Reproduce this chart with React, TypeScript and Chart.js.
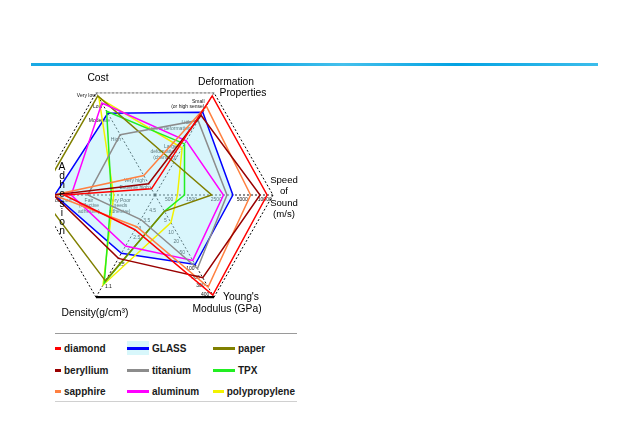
import React, { useEffect, useRef } from "react";
import { Chart, registerables } from "chart.js";

Chart.register(...registerables);

// ---- axes (clockwise from upper-left) ----
const axisLabels = ["Cost", "Deformation Properties", "Speed of Sound (m/s)", "Young's Modulus (GPa)", "Density(g/cm³)", "Adhesion"];

// ---- materials (legend order, column by column) ----
const materials = ["diamond", "beryllium", "sapphire", "GLASS", "titanium", "aluminum", "paper", "TPX", "polypropylene"];
const lineColors = ["#ff0000", "#990000", "#ff8040", "#0000ff", "#8c8c8c", "#ff00ff", "#808000", "#22ee22", "#f2f200"];

// values: [Cost, Deformation, Speed, Young's, Density, Adhesion] on a 0..10 "better = outer" scale
const diamond = [0.6, 9.7, 9.5, 9.8, 3.4, 7.7];
const beryllium = [1.1, 7.8, 8.9, 8.1, 6.2, 8.6];
const sapphire = [1.9, 8.7, 8.1, 9.0, 3.1, 8.6];
const glass = [8.0, 8.1, 6.6, 6.8, 5.7, 8.5];
const titanium = [5.9, 7.3, 6.1, 7.2, 2.4, 5.7];
const aluminum = [9.0, 5.3, 5.8, 6.4, 5.0, 7.1];
const paper = [9.7, 3.2, 4.8, 1.6, 8.4, 9.7];
const tpx = [8.2, 5.0, 2.5, 1.6, 8.6, 3.7];
const polypropylene = [9.5, 4.6, 1.9, 2.7, 8.8, 3.5];
const seriesValues = [diamond, beryllium, sapphire, glass, titanium, aluminum, paper, tpx, polypropylene];

// ---- per-axis tick labels ----
const costTicks = ["Very low", "Low", "Moderate", "High", "Very high", "Extreme high"];
const costTickValues = [9.7, 8.6, 7.3, 5.4, 1.4, 0.7];
const deformationTicks = ["Small\n(or high sense)", "Little\n(some deformation)", "Large\ndeformation\n(changing)"];
const deformationTickValues = [8.9, 6.8, 4.2];
const speedTicks = ["500", "1500", "2500", "5000", "10000"];
const speedTickValues = [1.2, 3.1, 5.2, 7.4, 9.3];
const youngTicks = ["5", "10", "20", "50", "100", "200", "300", "400"];
const youngTickValues = [2.5, 3.7, 4.6, 5.6, 7.2, 8.1, 8.9, 9.7];
const densityTicks = ["1.1", "1.5", "2", "2.5", "3", "3.5", "4.5"];
const densityTickValues = [9.0, 6.8, 5.2, 4.2, 3.3, 2.5, 1.5];
const adhesionTicks = ["Very Good", "Good", "Fair\n(effective\nadhesive)", "Very Poor\n(needs\nadhesive)"];
const adhesionTickValues = [9.0, 7.6, 5.6, 3.0];

const tickSets = [
  { axis: 0, labels: costTicks, values: costTickValues },
  { axis: 1, labels: deformationTicks, values: deformationTickValues },
  { axis: 2, labels: speedTicks, values: speedTickValues },
  { axis: 3, labels: youngTicks, values: youngTickValues },
  { axis: 4, labels: densityTicks, values: densityTickValues },
  { axis: 5, labels: adhesionTicks, values: adhesionTickValues },
];

const FONT = "Arial, 'Liberation Sans', sans-serif";

const tickStyle: Record<number, { align: CanvasTextAlign; base: CanvasTextBaseline; dx: number; dy: number }> = {
  0: { align: "right", base: "middle", dx: -2, dy: 0 },
  1: { align: "right", base: "middle", dx: -3, dy: 0 },
  2: { align: "center", base: "top", dx: 0, dy: 2 },
  3: { align: "right", base: "middle", dx: -3, dy: 0 },
  4: { align: "left", base: "middle", dx: 3, dy: 0 },
  5: { align: "center", base: "top", dx: 0, dy: 3 },
};

const axisDecor = {
  id: "axisDecor",
  beforeDatasetsDraw(chart: any) {
    const s = chart.scales.r;
    const ctx: CanvasRenderingContext2D = chart.ctx;
    const outer = s.getDistanceFromCenterForValue(10);
    const V = [0, 1, 2, 3, 4, 5].map((i) => s.getPointPosition(i, outer));
    ctx.save();
    ctx.setLineDash([]);
    ctx.strokeStyle = "#c4c4c4";
    ctx.lineWidth = 1.2;
    ctx.beginPath();
    ctx.moveTo(V[0].x, V[0].y);
    ctx.lineTo(V[1].x, V[1].y);
    ctx.stroke();
    ctx.strokeStyle = "#000";
    ctx.lineWidth = 2.2;
    ctx.beginPath();
    ctx.moveTo(V[3].x, V[3].y);
    ctx.lineTo(V[4].x, V[4].y);
    ctx.stroke();

    ctx.fillStyle = "#111";
    ctx.font = `5px ${FONT}`;
    tickSets.forEach((set) => {
      const st = tickStyle[set.axis];
      ctx.textAlign = st.align;
      ctx.textBaseline = st.base;
      set.labels.forEach((lab, k) => {
        const p = s.getPointPosition(set.axis, s.getDistanceFromCenterForValue(set.values[k]));
        const lines = lab.split("\n");
        const lh = 5.5;
        const startY = st.base === "middle" ? p.y + st.dy - ((lines.length - 1) * lh) / 2 : p.y + st.dy;
        lines.forEach((ln, j) => ctx.fillText(ln, p.x + st.dx, startY + j * lh));
      });
    });
    ctx.restore();
  },
  afterDatasetsDraw(chart: any) {
    const s = chart.scales.r;
    const ctx: CanvasRenderingContext2D = chart.ctx;
    const outer = s.getDistanceFromCenterForValue(10);
    const V = [0, 1, 2, 3, 4, 5].map((i) => s.getPointPosition(i, outer));
    ctx.save();
    ctx.fillStyle = "#000";
    ctx.font = `10.3px ${FONT}`;
    ctx.textAlign = "center";
    ctx.textBaseline = "middle";
    const put = (t: string, v: any, dx: number, dy: number) => ctx.fillText(t, v.x + dx, v.y + dy);
    put(axisLabels[0], V[0], 2, -15);
    put("Deformation", V[1], 12, -11);
    put("Properties", V[1], 29, 0);
    ctx.font = `9.6px ${FONT}`;
    ["Speed", "of", "Sound", "(m/s)"].forEach((t, k) => put(t, V[2], 11, -15 + k * 11.5));
    ctx.font = `10.3px ${FONT}`;
    put("Young's", V[3], 27, 0);
    put("Modulus (GPa)", V[3], 13, 12);
    put(axisLabels[4], V[4], -1, 16);
    axisLabels[5].split("").forEach((ch, k) => put(ch, V[5], 25, -28 + k * 9.2));
    ctx.restore();
  },
};

export default function App() {
  const ref = useRef<HTMLCanvasElement>(null);

  useEffect(() => {
    const canvas = ref.current!;
    const chart = new Chart(canvas, {
      type: "radar",
      data: {
        labels: axisLabels,
        datasets: materials.map((name, i) => ({
          label: name,
          data: seriesValues[i],
          borderColor: lineColors[i],
          backgroundColor: name === "GLASS" ? "rgba(170,236,248,0.45)" : "transparent",
          fill: name === "GLASS" ? "origin" : false,
          borderWidth: 1.5,
          pointRadius: 0,
          pointHoverRadius: 0,
          order: name === "GLASS" ? 10 : 0,
        })),
      },
      options: {
        responsive: false,
        animation: false,
        devicePixelRatio: 1,
        events: [],
        layout: { padding: { left: 17, right: 27, top: 9, bottom: 19 } },
        plugins: { legend: { display: false }, tooltip: { enabled: false } },
        scales: {
          r: {
            min: 0,
            max: 10,
            startAngle: -30,
            ticks: { display: false, stepSize: 10 },
            pointLabels: { display: false },
            grid: { color: "#000", lineWidth: 1 },
            border: { dash: [2, 2] },
            angleLines: { color: "#000", lineWidth: 0.9, borderDash: [2, 2] },
          },
        },
      } as any,
      plugins: [axisDecor],
    });
    return () => chart.destroy();
  }, []);

  const colLeft = [-16, 72, 158];
  const colWidth = [86, 86, 82];
  const rowTop = [280, 302, 323];

  return (
    <div style={{ position: "absolute", left: 0, top: 0, width: 631, height: 442, background: "#fff", overflow: "hidden" }}>
      <div
        style={{
          position: "absolute",
          left: 31,
          top: 63,
          width: 567,
          height: 3,
          background: "linear-gradient(to right, #1aa9e4, #00a0e0 35%, #45c0ec 55%, #02a2e2 75%, #3cbdeb)",
        }}
      />
      <div style={{ position: "absolute", left: 55, top: 68, width: 243, height: 336, overflow: "hidden", background: "#fff" }}>
        <canvas ref={ref} width={280} height={264} style={{ position: "absolute", left: -35, top: 0, width: 280, height: 264 }} />
        <div style={{ position: "absolute", left: 0, top: 265, width: 242, height: 0, borderTop: "1px solid #9a9a9a" }} />
        <div style={{ position: "absolute", left: 0, top: 333, width: 242, height: 0, borderTop: "1px solid #d0d0d0" }} />
        {materials.map((name, i) => {
          const c = Math.floor(i / 3);
          const r = i % 3;
          return (
            <div
              key={name}
              style={{
                position: "absolute",
                left: colLeft[c],
                top: rowTop[r] - 7,
                width: colWidth[c],
                height: 14,
                display: "flex",
                alignItems: "center",
              }}
            >
              <div
                style={{
                  flex: "0 1 22px",
                  minWidth: 10,
                  height: 14,
                  position: "relative",
                  background: name === "GLASS" ? "#d8f7fb" : "transparent",
                }}
              >
                <div style={{ position: "absolute", left: 0, right: 0, top: 6, height: 2.5, background: lineColors[i] }} />
              </div>
              <div
                style={{
                  flex: "0 0 auto",
                  marginLeft: 3,
                  lineHeight: "14px",
                  font: `bold 10px ${FONT}`,
                  color: "#1a1a1a",
                  whiteSpace: "nowrap",
                }}
              >
                {name}
              </div>
            </div>
          );
        })}
      </div>
    </div>
  );
}
